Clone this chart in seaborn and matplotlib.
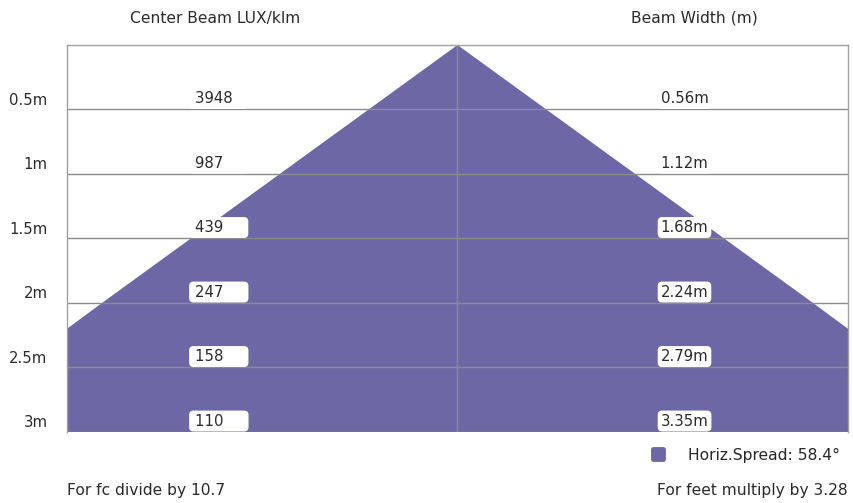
import matplotlib.pyplot as plt
from matplotlib.lines import Line2D
from matplotlib.markers import MarkerStyle
import numpy as np
import seaborn as sns

# beam data
distances = [0.5, 1.0, 1.5, 2.0, 2.5, 3.0]
distance_labels = ["0.5m", "1m", "1.5m", "2m", "2.5m", "3m"]
lux_values = [3948, 987, 439, 247, 158, 110]
beam_widths = [0.56, 1.12, 1.68, 2.24, 2.79, 3.35]
spread_label = "Horiz.Spread: 58.4°"

PURPLE = "#6e67a6"
GRID = "#8c8c8c"
TXT = "#2a2a2a"
FS = 11.2

sns.set_theme(style="white")
plt.rcParams['font.family'] = ['DejaVu Sans']

fig = plt.figure(figsize=(8.54, 5.03), dpi=100)
ax = fig.add_axes([67 / 854, 1 - 432 / 503, 781 / 854, 387 / 503])

# beam cone from the widths (apex at 0 m)
d = np.array([0.0] + distances)
half = np.array([0.0] + beam_widths) / 2
ax.fill_betweenx(d, -half, half, color=PURPLE, lw=0, zorder=1)

ax.set_xlim(-1.23, 1.23)
ax.set_ylim(3, 0)

# grid rows and centre line
for dist in distances:
    ax.axhline(dist, color=GRID, lw=1, zorder=2)
ax.axvline(0, color=GRID, lw=1, zorder=2)
for side in ["left", "right", "top", "bottom"]:
    ax.spines[side].set_color("#a0a0a0")
    ax.spines[side].set_linewidth(1)
ax.spines["bottom"].set_visible(False)
ax.set_xticks([])
ax.set_yticks([])

box = dict(boxstyle="round,pad=0.2,rounding_size=0.3", fc="white", ec="none")
for dist, lab, lux, bw in zip(distances, distance_labels, lux_values, beam_widths):
    ax.text(-0.025, dist - 0.07, lab, transform=ax.get_yaxis_transform(),
            ha="right", va="center", fontsize=FS - 0.5, color=TXT)
    ax.text(-0.836, dist - 0.085, "\u2009" + str(lux).ljust(4, "\u2007") + "\u2007\u2009",
            ha="left", va="center", fontsize=FS - 0.5, color=TXT, bbox=box, zorder=3)
    ax.text(0.64, dist - 0.085, f"{bw:.2f}m", ha="left", va="center",
            fontsize=FS - 0.5, color=TXT, bbox=box, zorder=3)

fig.text(215 / 854, 1 - 18 / 503, "Center Beam LUX/klm", ha="center", va="center",
         fontsize=FS, color=TXT)
fig.text(694 / 854, 1 - 18 / 503, "Beam Width (m)", ha="center", va="center",
         fontsize=FS, color=TXT)
fig.text(67 / 854, 1 - 491 / 503, "For fc divide by 10.7", ha="left", va="center",
         fontsize=FS, color=TXT)
fig.text(848 / 854, 1 - 491 / 503, "For feet multiply by 3.28", ha="right", va="center",
         fontsize=FS, color=TXT)

handle = Line2D([], [], ls="none", marker=MarkerStyle("s", joinstyle="round"),
                markersize=7.5, markeredgewidth=3.5, color=PURPLE, label=spread_label)
fig.legend(handles=[handle], loc="center right", bbox_to_anchor=(840 / 854, 1 - 455 / 503),
           frameon=False, fontsize=FS, handlelength=1.0, handletextpad=1.4,
           borderpad=0, borderaxespad=0)

fig.savefig("out.png", dpi=100)
